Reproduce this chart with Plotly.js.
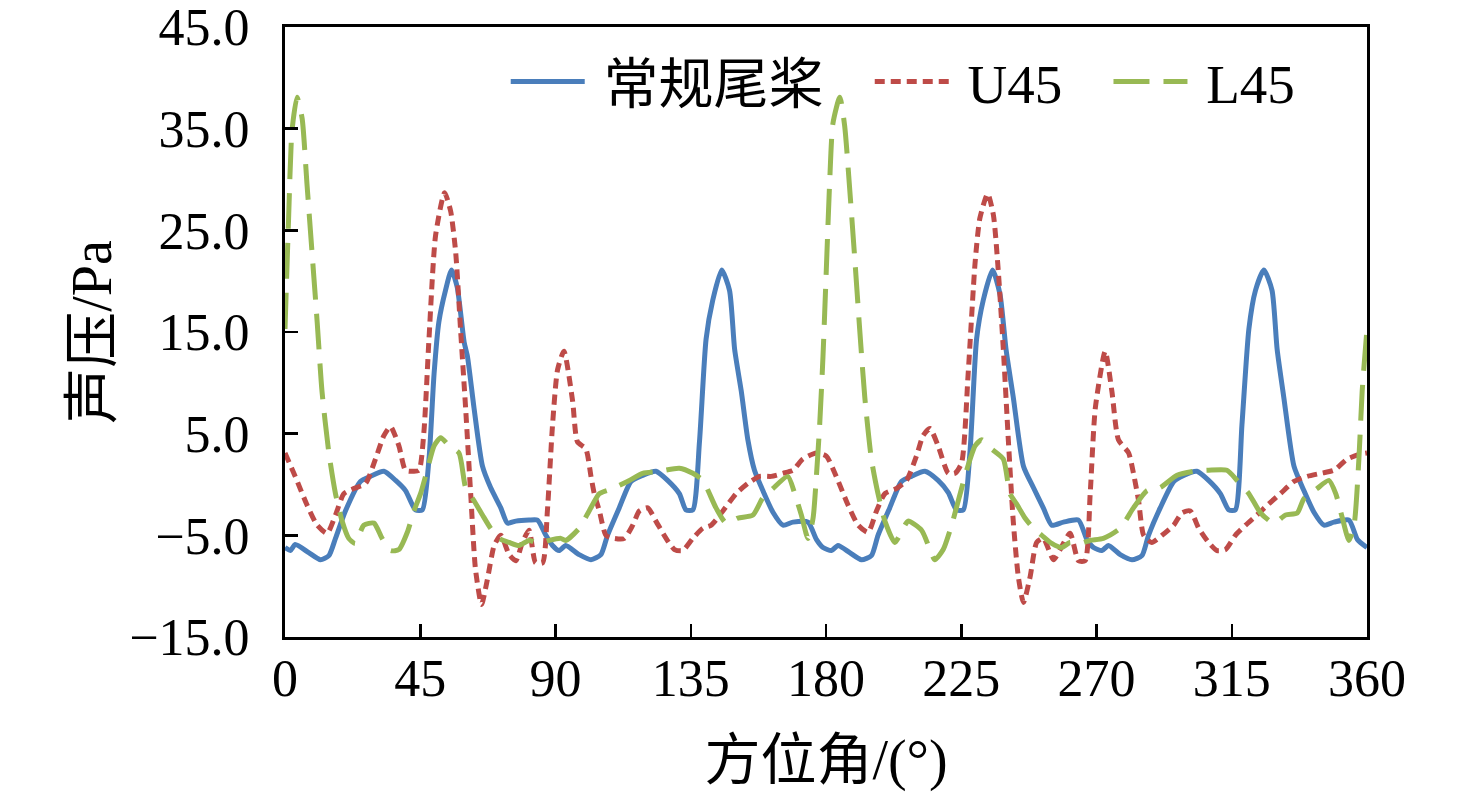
<!DOCTYPE html>
<html>
<head>
<meta charset="utf-8">
<script src="https://cdn.plot.ly/plotly-3.0.1.min.js"></script>
<style>
  html, body { margin: 0; padding: 0; background: #fff; }
  #chart { width: 1476px; height: 792px; }
</style>
</head>
<body>
<div id="chart"></div>
<script>
// 常规尾桨 (conventional tail rotor)
var baseDeg = [0, 1.8, 3.4, 7.9, 11.8, 14.6, 16.8, 20.1, 25.1, 28.4, 32.9, 36.8, 40.1, 43.4, 45.7, 47.9, 49.6, 51.2, 53.4, 55.4, 57.3, 59.6, 60.7, 62.9, 65.7, 68.4, 71.8, 74, 76.8, 81.2, 84, 86.8,
  89, 91.2, 93.4, 97.9, 101.8, 105.1, 107.3, 111.2, 115.1, 119, 123.4, 127.3, 131.2, 133.4, 135.7, 137.9, 140.1, 142.3, 145.3, 147.9, 149.6, 151.8, 154, 156.2, 159, 162.3, 165.7, 169, 174, 176.8,
  179, 181.8, 184, 187.9, 191.8, 195.1, 197.3, 201.2, 205.1, 208.4, 212.9, 217.3, 220.7, 223.4, 225.7, 227.9, 230.1, 232.3, 235.4, 237.9, 239.9, 242.3, 245.7, 249, 252.3, 255.1, 259, 264, 266.8,
  269, 271.8, 274, 277.9, 281.8, 285.1, 287.3, 291.2, 295.7, 299, 303.4, 307.3, 311.2, 314, 316.2, 318.4, 320.7, 322.9, 325.7, 328.4, 330.1, 332.3, 335.7, 339, 342.3, 345.7, 349, 354, 356.8, 360];
var baseVal = [-6.2, -6.5, -5.9, -6.7, -7.4, -7.0, -5.3, -2.6, 0.3, 0.8, 1.3, 0.4, -0.6, -2.5, -2.5, 2.5, 10.9, 16.0, 19.1, 21.1, 19.4, 14.0, 12.6, 7.5, 1.8, -0.3, -2.3, -3.8, -3.6, -3.5, -3.5, -5.0,
  -6.0, -6.5, -6.0, -6.9, -7.4, -6.9, -5.0, -2.3, 0.3, 0.9, 1.3, 0.4, -0.9, -2.5, -2.5, 4.2, 14.3, 18.1, 21.1, 19.1, 13.3, 9.2, 4.4, 1.4, -0.6, -2.7, -4.0, -3.7, -3.7, -5.4,
  -6.2, -6.5, -6.0, -6.7, -7.4, -7.0, -5.0, -2.3, 0.3, 0.8, 1.3, 0.4, -0.8, -2.5, -2.5, 3.2, 14.3, 18.1, 21.1, 18.7, 13.3, 8.6, 1.8, -0.3, -2.3, -4.0, -3.7, -3.5, -5.4,
  -6.2, -6.5, -6.0, -6.9, -7.4, -7.0, -5.0, -2.3, 0.3, 0.9, 1.3, 0.4, -0.9, -2.5, -2.5, 5.9, 15.3, 19.1, 21.1, 19.1, 13.3, 8.6, 1.8, -0.6, -2.7, -4.0, -3.7, -3.5, -5.4, -6.2];

// U45
var u45Deg = [0, 3.4, 7.3, 10.7, 14, 16.8, 19.6, 22.9, 26.8, 30.1, 32.9, 35.1, 37.9, 40.1, 42.9, 44.6, 46.2, 47.9, 50.1, 53.1, 55.1, 56.8, 58.4, 60.1, 61.8, 63.4, 65.4, 67.3, 69.6, 71.8, 74.6, 76.8, 79, 81.2, 83.4, 85.7, 87.3,
  89, 90.7, 92.8, 95.7, 97.3, 100.1, 101.8, 102.9, 104.6, 106.8, 109.6, 112.9, 115.7, 117.9, 120.7, 123.4, 126.8, 129.6, 132.3, 135.7, 139, 141.8, 145.7, 150.1, 154, 157.9, 161.8, 165.7, 169, 172.3, 176.8,
  180.1, 183.4, 187.3, 190.7, 194, 196.8, 199.6, 203.4, 206.8, 210.1, 212.3, 214.6, 217.3, 220.7, 222.9, 225.1, 227.3, 229.6, 231.2, 233.8, 235.7, 237.3, 239, 240.7, 242.3, 244, 245.7, 247.9, 250.1, 252.3, 255.7, 257.9, 261.2, 264, 266.2, 267.9,
  269.6, 272.9, 275.1, 277.3, 280.7, 282.3, 284, 285.7, 288.4, 291.8, 295.7, 298.4, 301.2, 304, 307.3, 310.1, 312.9, 316.2, 319.6, 323.4, 327.3, 331.2, 335.7, 340.1, 344.6, 349, 353.4, 357.9, 360];
var u45Val = [3.1, 0.8, -2.0, -4.0, -4.8, -3.0, -0.9, -0.4, 0.1, 2.5, 4.8, 5.7, 3.8, 1.4, 1.3, 1.4, 5.1, 14.3, 24.5, 28.7, 26.9, 22.8, 15.3, 7.5, -1.0, -8.4, -11.8, -9.4, -6.0, -5.0, -6.9, -7.5, -5.7, -4.5, -7.7, -7.7, -2.6,
  5.8, 11.3, 13.1, 8.2, 4.2, 3.5, 0.8, -0.9, -2.6, -5.0, -5.3, -5.3, -4.0, -2.6, -2.3, -3.6, -5.3, -6.4, -6.5, -5.3, -4.3, -4.0, -2.6, -0.9, 0.1, 0.8, 0.8, 1.1, 1.4, 2.5, 3.1,
  2.8, 0.8, -2.0, -4.0, -4.7, -2.6, -0.9, -0.4, 0.4, 2.8, 4.8, 5.5, 3.8, 1.1, 1.1, 2.1, 10.9, 21.8, 26.2, 28.6, 26.5, 21.1, 13.3, 4.2, -3.6, -9.1, -11.6, -9.1, -5.7, -5.3, -7.4, -6.4, -4.8, -7.5, -7.5, -0.9,
  7.5, 13.1, 9.2, 4.4, 3.1, 1.1, -1.6, -5.0, -5.7, -5.0, -4.0, -2.8, -2.6, -4.3, -5.7, -6.5, -6.4, -5.0, -4.0, -3.0, -1.9, -0.9, 0.3, 0.8, 1.1, 1.4, 2.5, 3.0, 3.1];

// L45
var l45Deg = [0, 1.2, 2.3, 4, 5.7, 7.3, 9, 10.7, 12.3, 14.6, 16.8, 19, 21.2, 23.4, 26.2, 29.6, 32.3, 35.1, 37.9, 40.7, 42.9, 45.1, 47.3, 49.6, 51.8, 54.6, 57.9, 60.1, 62.9, 65.7, 68.4, 71.2, 74.6, 77.9, 81.2, 84.6, 87.9,
  91.8, 93.4, 97.9, 101.2, 104.6, 109, 114.6, 119, 124.6, 131.2, 135.7, 139, 143.4, 146.8, 150.7, 155.7, 159, 162.3, 167.3, 169.6, 171.8, 174, 175.7, 176.8, 177.9,
  179, 180.1, 181.2, 182.3, 184.6, 186.2, 187.9, 189.6, 191.2, 192.9, 195.1, 197.3, 199.6, 202.9, 205.7, 207.3, 211.8, 214.6, 216.2, 219, 221.8, 224, 226.8, 229.6, 231.8, 235.1, 239, 241.2, 243.4, 246.2, 249, 251.8, 255.1, 258.4, 261.2, 264.6, 267.9,
  272.3, 277.9, 282.3, 286.8, 291.2, 296.8, 302.3, 307.3, 313.4, 316.8, 320.7, 324.6, 329, 332.9, 336.8, 339, 343.4, 347.3, 349.6, 351.8, 354, 355.7, 357.3, 358.4, 360];
var l45Val = [15.3, 26.2, 34.7, 38.1, 36.0, 29.6, 22.8, 16.0, 9.2, 3.1, -0.9, -3.6, -5.3, -5.8, -4.0, -3.8, -5.3, -6.5, -6.4, -4.7, -2.6, -0.9, 1.4, 3.8, 4.6, 3.8, 3.1, -0.3, -1.6, -3.0, -4.3, -5.3, -5.7, -6.0, -5.5, -5.8, -5.5,
  -5.3, -5.5, -4.3, -2.6, -0.9, -0.4, 0.4, 1.1, 1.3, 1.6, 1.1, 0.4, -2.3, -3.8, -3.3, -3.0, -1.3, -0.4, 0.8, -0.9, -3.0, -5.3, -3.3, 0.8, 5.9,
  12.6, 21.1, 29.6, 35.5, 38.1, 35.3, 29.0, 22.1, 15.3, 8.6, 2.5, -0.9, -3.6, -5.7, -4.3, -3.6, -4.5, -6.4, -7.4, -6.4, -4.0, -1.6, 1.4, 3.8, 4.4, 3.5, 2.5, -0.9, -1.9, -3.3, -4.3, -5.0, -5.8, -6.2, -5.7, -5.8, -5.5,
  -5.3, -4.3, -2.3, -0.6, -0.3, 0.9, 1.3, 1.4, 1.4, 0.4, -0.9, -2.8, -3.8, -3.0, -2.8, -1.4, -0.4, 0.4, -0.9, -3.3, -5.5, -4.0, 2.5, 9.2, 15.3];

var seriesNames = ['常规尾桨', 'U45', 'L45'];
var seriesColors = ['#4a7ebb', '#be4b48', '#98b954'];
var yTicks = [-15, -5, 5, 15, 25, 35, 45];
var xTicks = [0, 45, 90, 135, 180, 225, 270, 315, 360];

var fontFamily = '"Liberation Serif", "Times New Roman", "Noto Sans CJK SC", serif';
var nb = '\u00a0';

function legendName(s, tail) {
  return nb + s + nb.repeat(tail);
}

var traces = [
  {x: baseDeg, y: baseVal, name: legendName(seriesNames[0], 3), type: 'scatter', mode: 'lines',
   line: {color: seriesColors[0], width: 5, shape: 'spline', smoothing: 0.6}},
  {x: u45Deg, y: u45Val, name: legendName(seriesNames[1], 3), type: 'scatter', mode: 'lines',
   line: {color: seriesColors[1], width: 5, dash: '10px,6px', shape: 'spline', smoothing: 0.6}},
  {x: l45Deg, y: l45Val, name: legendName(seriesNames[2], 0), type: 'scatter', mode: 'lines',
   line: {color: seriesColors[2], width: 5, dash: '36px,14px', shape: 'spline', smoothing: 0.6}}
];

var layout = {
  width: 1476,
  height: 792,
  margin: {l: 285, r: 109, t: 27, b: 155},
  paper_bgcolor: '#fff',
  plot_bgcolor: '#fff',
  font: {family: fontFamily, size: 52, color: '#000'},
  showlegend: true,
  legend: {
    orientation: 'h', x: 0.204, y: 0.98, xanchor: 'left', yanchor: 'top',
    bgcolor: 'rgba(0,0,0,0)', itemwidth: 74, font: {size: 55}, tracegroupgap: 0
  },
  xaxis: {
    range: [0, 360], tickmode: 'array', tickvals: xTicks, ticks: 'inside', ticklen: 13, tickwidth: 2.5,
    tickcolor: '#000', showline: true, linecolor: '#000', linewidth: 3, mirror: true,
    showgrid: false, zeroline: false, ticklabelstandoff: -6, ticklabeloverflow: 'allow',
    title: {text: '方位角/(°)', standoff: 36, font: {size: 56}}
  },
  yaxis: {
    range: [-15, 45], tickmode: 'array', tickvals: yTicks, tickformat: '.1f', ticks: 'inside', ticklen: 13, tickwidth: 2.5,
    tickcolor: '#000', showline: true, linecolor: '#000', linewidth: 3, mirror: true,
    showgrid: false, zeroline: false, ticklabelstandoff: 22, ticklabeloverflow: 'allow',
    title: {text: '声压/Pa', standoff: 0, font: {size: 56}}
  }
};

Plotly.newPlot('chart', traces, layout, {staticPlot: true});
</script>
</body>
</html>
